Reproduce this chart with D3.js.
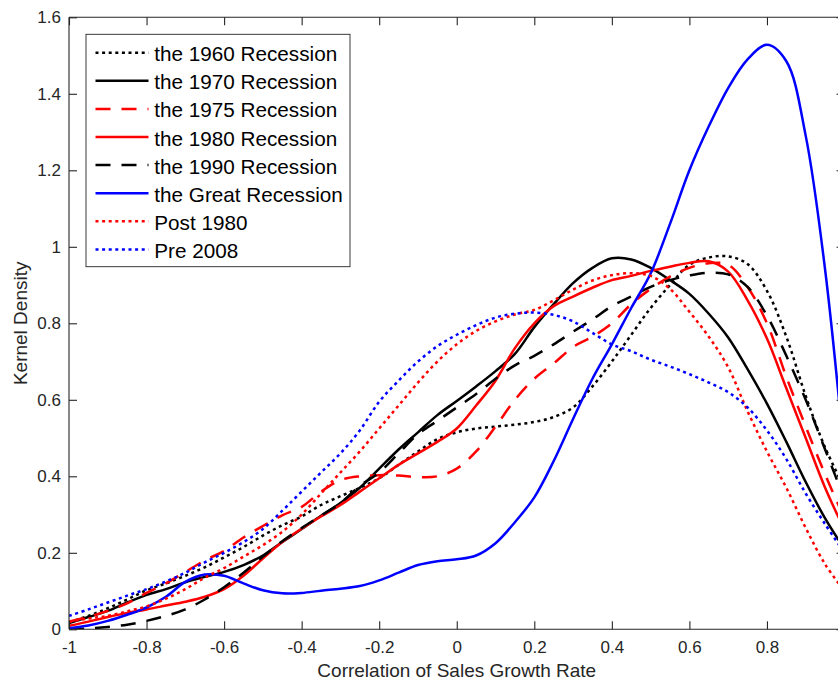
<!DOCTYPE html>
<html>
<head>
<meta charset="utf-8">
<script src="https://cdn.jsdelivr.net/npm/d3@7"></script>
<style>
  html, body { margin: 0; padding: 0; background: #fff; }
  svg { display: block; }
  text { font-family: "Liberation Sans", Arial, Helvetica, sans-serif; fill: #262626; }
</style>
</head>
<body>
<svg id="chart" width="838" height="682"></svg>
<script>
// ---------- data ----------
const xs = [-1, -0.95, -0.9, -0.85, -0.8, -0.75, -0.7, -0.65, -0.6, -0.55, -0.5, -0.45, -0.4, -0.35, -0.3, -0.25, -0.2, -0.15, -0.1, -0.05,
            0, 0.05, 0.1, 0.15, 0.2, 0.25, 0.3, 0.35, 0.4, 0.45, 0.5, 0.55, 0.6, 0.65, 0.7, 0.75, 0.8, 0.85, 0.9, 0.95, 1.0];

const rec1960 = [0.018, 0.035, 0.055, 0.078, 0.102, 0.12, 0.14, 0.162, 0.188, 0.215, 0.245, 0.272, 0.295, 0.325, 0.348, 0.37, 0.395, 0.43, 0.465, 0.497,
                 0.515, 0.525, 0.53, 0.535, 0.542, 0.555, 0.58, 0.635, 0.7, 0.77, 0.84, 0.9, 0.953, 0.972, 0.975, 0.955, 0.885, 0.765, 0.61, 0.475, 0.37];
const rec1970 = [0.016, 0.032, 0.048, 0.07, 0.09, 0.105, 0.123, 0.137, 0.15, 0.168, 0.193, 0.228, 0.262, 0.297, 0.33, 0.37, 0.42, 0.47, 0.515, 0.56,
                 0.597, 0.635, 0.675, 0.72, 0.79, 0.85, 0.905, 0.945, 0.97, 0.967, 0.945, 0.913, 0.877, 0.825, 0.763, 0.68, 0.59, 0.49, 0.385, 0.29, 0.21];
const rec1975 = [0.02, 0.033, 0.048, 0.068, 0.095, 0.12, 0.15, 0.18, 0.205, 0.24, 0.27, 0.298, 0.32, 0.36, 0.39, 0.4, 0.403, 0.402, 0.398, 0.4,
                 0.42, 0.465, 0.53, 0.6, 0.655, 0.695, 0.738, 0.765, 0.8, 0.85, 0.89, 0.922, 0.945, 0.957, 0.953, 0.895, 0.8, 0.66, 0.53, 0.405, 0.29];
const rec1980 = [0.009, 0.02, 0.032, 0.043, 0.052, 0.062, 0.072, 0.085, 0.105, 0.14, 0.185, 0.228, 0.263, 0.295, 0.325, 0.36, 0.395, 0.43, 0.46, 0.49,
                 0.525, 0.585, 0.65, 0.735, 0.8, 0.845, 0.87, 0.893, 0.913, 0.924, 0.937, 0.948, 0.958, 0.962, 0.935, 0.86, 0.76, 0.63, 0.5, 0.37, 0.26];
const rec1990 = [0.0, 0.002, 0.006, 0.012, 0.022, 0.035, 0.052, 0.078, 0.11, 0.148, 0.19, 0.23, 0.265, 0.297, 0.33, 0.375, 0.41, 0.46, 0.51, 0.545,
                 0.58, 0.615, 0.655, 0.69, 0.715, 0.745, 0.778, 0.81, 0.845, 0.87, 0.895, 0.913, 0.925, 0.932, 0.928, 0.895, 0.82, 0.715, 0.6, 0.47, 0.34];
const recGreat = [0.003, 0.01, 0.022, 0.038, 0.057, 0.085, 0.124, 0.143, 0.14, 0.12, 0.102, 0.094, 0.095, 0.101, 0.106, 0.113, 0.128, 0.148, 0.168, 0.178,
                  0.183, 0.193, 0.225, 0.28, 0.345, 0.44, 0.55, 0.655, 0.745, 0.84, 0.93, 1.06, 1.2, 1.315, 1.415, 1.49, 1.528, 1.485, 1.29, 0.94, 0.45];
const post1980 = [0.02, 0.028, 0.035, 0.047, 0.06, 0.08, 0.105, 0.135, 0.16, 0.19, 0.22, 0.255, 0.3, 0.355, 0.41, 0.465, 0.525, 0.585, 0.645, 0.7,
                  0.745, 0.78, 0.805, 0.823, 0.835, 0.86, 0.888, 0.912, 0.926, 0.931, 0.924, 0.89, 0.83, 0.765, 0.685, 0.57, 0.465, 0.37, 0.265, 0.17, 0.1];
const pre2008 = [0.035, 0.052, 0.07, 0.088, 0.105, 0.125, 0.148, 0.175, 0.2, 0.228, 0.262, 0.31, 0.36, 0.41, 0.46, 0.52, 0.595, 0.65, 0.7, 0.74,
                 0.77, 0.795, 0.815, 0.825, 0.828, 0.822, 0.805, 0.775, 0.745, 0.727, 0.705, 0.687, 0.667, 0.645, 0.62, 0.58, 0.52, 0.445, 0.355, 0.275, 0.2];

const seriesNames = ["the 1960 Recession", "the 1970 Recession", "the 1975 Recession", "the 1980 Recession",
                     "the 1990 Recession", "the Great Recession", "Post 1980", "Pre 2008"];
const seriesValues = [rec1960, rec1970, rec1975, rec1980, rec1990, recGreat, post1980, pre2008];
const seriesColors = ["#000000", "#000000", "#ff0000", "#ff0000", "#000000", "#0000ff", "#ff0000", "#0000ff"];
const seriesDash = ["dot", "solid", "dash", "solid", "dash", "solid", "dot", "dot"];

const xTicks = [-1, -0.8, -0.6, -0.4, -0.2, 0, 0.2, 0.4, 0.6, 0.8, 1];
const xTickLabels = ["-1", "-0.8", "-0.6", "-0.4", "-0.2", "0", "0.2", "0.4", "0.6", "0.8", ""]; // "1" falls outside the visible window
const yTicks = [0, 0.2, 0.4, 0.6, 0.8, 1, 1.2, 1.4, 1.6];
const xTitle = "Correlation of Sales Growth Rate";
const yTitle = "Kernel Density";

// ---------- layout ----------
const svg = d3.select("#chart");
const L = 69, R = 844.5, T = 17.3, B = 629.3;
const axisColor = "#262626";
const x = d3.scaleLinear().domain([-1, 1]).range([L, R]);
const y = d3.scaleLinear().domain([0, 1.6]).range([B, T]);
const dashArr = { dot: "3,3.6", dash: "15,11", solid: null };
const LW = 2.5;

svg.append("defs").append("clipPath").attr("id", "plotclip")
  .append("rect").attr("x", L).attr("y", T).attr("width", R - L).attr("height", B - T);

// curves
const line = d3.line()
  .x((d, i) => x(xs[i]))
  .y(d => y(d))
  .curve(d3.curveCatmullRom.alpha(0.5));

const g = svg.append("g").attr("clip-path", "url(#plotclip)");
seriesValues.forEach((vals, k) => {
  g.append("path")
    .attr("d", line(vals))
    .attr("fill", "none")
    .attr("stroke", seriesColors[k])
    .attr("stroke-width", LW)
    .attr("stroke-dasharray", dashArr[seriesDash[k]])
    .attr("stroke-linejoin", "round");
});

// axes (MATLAB style: box, inward ticks)
const xAxisB = d3.axisBottom(x).tickValues(xTicks).tickSize(-8).tickPadding(12)
  .tickFormat((d, i) => xTickLabels[i]);
const xAxisT = d3.axisTop(x).tickValues(xTicks).tickSize(-8).tickFormat("");
const yAxisL = d3.axisLeft(y).tickValues(yTicks).tickSize(-8).tickPadding(8).tickFormat(d => String(d));
const yAxisR = d3.axisRight(y).tickValues(yTicks).tickSize(-8).tickFormat("");

function styleAxis(sel) {
  sel.selectAll("path.domain").attr("stroke", axisColor).attr("stroke-width", 1.1);
  sel.selectAll(".tick line").attr("stroke", axisColor).attr("stroke-width", 1.1);
  sel.selectAll(".tick text").attr("fill", axisColor).style("font-size", "17px")
     .style("font-family", '"Liberation Sans", Arial, sans-serif');
}
const gxB = svg.append("g").attr("transform", `translate(0,${B})`).call(xAxisB);
gxB.call(styleAxis);
gxB.selectAll("path.domain").attr("d", `M${L},0H${R}`);
const gxT = svg.append("g").attr("transform", `translate(0,${T})`).call(xAxisT);
gxT.call(styleAxis);
gxT.selectAll("path.domain").attr("d", `M${L},0H${R}`);
const gyL = svg.append("g").attr("transform", `translate(${L},0)`).call(yAxisL);
gyL.call(styleAxis);
gyL.selectAll("path.domain").attr("d", `M0,${B}V${T}`);
const gyR = svg.append("g").attr("transform", `translate(${R},0)`).call(yAxisR);
gyR.call(styleAxis);
gyR.selectAll("path.domain").attr("d", `M0,${B}V${T}`);

// axis titles
svg.append("text")
  .attr("x", (L + R) / 2).attr("y", 677)
  .attr("text-anchor", "middle")
  .style("font-size", "19px")
  .text(xTitle);
svg.append("text")
  .attr("transform", `translate(27,${(T + B) / 2}) rotate(-90)`)
  .attr("text-anchor", "middle")
  .style("font-size", "19px")
  .text(yTitle);

// legend
const lg = svg.append("g");
lg.append("rect")
  .attr("x", 86).attr("y", 34.3).attr("width", 264).attr("height", 232.4)
  .attr("fill", "#fff").attr("stroke", axisColor).attr("stroke-width", 0.9);
seriesNames.forEach((name, k) => {
  const ry = 52.7 + k * 28.1;
  lg.append("line")
    .attr("x1", 95.5).attr("x2", 148.5).attr("y1", ry).attr("y2", ry)
    .attr("stroke", seriesColors[k]).attr("stroke-width", LW)
    .attr("stroke-dasharray", dashArr[seriesDash[k]]);
  lg.append("text")
    .attr("x", 154.3).attr("y", ry + 8.5)
    .style("font-size", "20.7px")
    .style("fill", "#000")
    .text(name);
});
</script>
</body>
</html>
